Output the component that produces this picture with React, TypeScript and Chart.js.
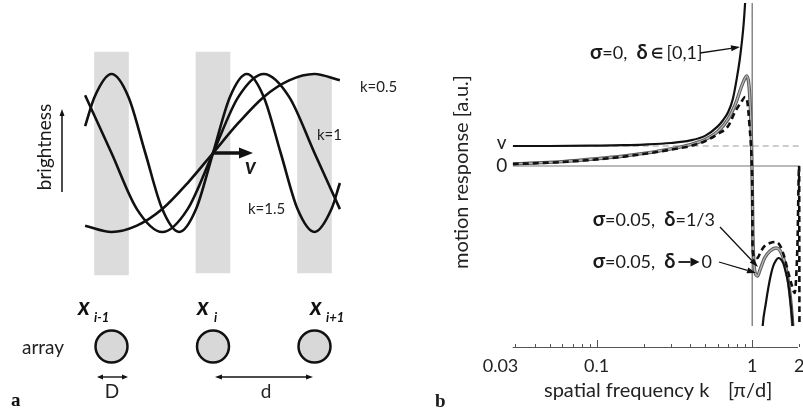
import React, { useEffect, useRef } from "react";
import { Chart, registerables } from "chart.js";
Chart.register(...registerables);

const SANS = 'Lato, "Open Sans", sans-serif';
const SERIF = '"Liberation Serif", "DejaVu Serif", serif';

// ---------------- Panel a (schematic) ----------------
// positions in units of d (receptor spacing), brightness in units of amplitude
const stripeCenter = [-1, 0, 1];
const stripeTop = [1.278, 1.278, 0.975];
const stripeBottom = [-1.544, -1.519, -1.519];

const waveLabels = ["k=0.5", "k=1", "k=1.5"];
const wave05U = [-1.26, -1, -0.75, -0.5, -0.25, 0, 0.25, 0.5, 0.75, 1, 1.25];
const wave05B = [-0.92, -1, -0.92, -0.71, -0.38, 0, 0.38, 0.71, 0.92, 1, 0.92];
const wave1U = [-1.26, -1, -0.75, -0.5, -0.25, 0, 0.25, 0.5, 0.75, 1, 1.25];
const wave1B = [0.73, 0, -0.71, -1, -0.71, 0, 0.71, 1, 0.71, 0, -0.71];
const wave15U = [-1.26, -1.167, -1, -0.833, -0.667, -0.5, -0.333, -0.167, 0, 0.167, 0.333, 0.5, 0.667, 0.833, 1, 1.167, 1.25];
const wave15B = [0.34, 0.71, 1, 0.71, 0, -0.71, -1, -0.71, 0, 0.71, 1, 0.71, 0, -0.71, -1, -0.71, -0.38];

const sensorU = [-1, 0, 1];
const sensorB = [-2.449, -2.449, -2.449];
const sensorSub = ["i-1", "i", "i+1"];

// ---------------- Panel b (motion response) ----------------
const sigma0LowK = [0.0289, 0.05, 0.1, 0.15, 0.2, 0.3, 0.4, 0.5, 0.6, 0.65, 0.7, 0.75, 0.8, 0.83, 0.86, 0.88, 0.9, 0.92];
const sigma0LowV = [1.0, 1.0, 1.02, 1.04, 1.07, 1.15, 1.28, 1.52, 1.98, 2.3, 2.7, 3.35, 4.5, 5.3, 6.3, 7.1, 8.2, 9.6];
const sigma0HighK = [1.12, 1.166, 1.22, 1.267, 1.32, 1.364, 1.42, 1.47, 1.52, 1.582, 1.64, 1.703, 1.76, 1.818, 1.86];
const sigma0HighV = [-10.5, -8, -6.9, -6.1, -5.4, -5.0, -4.72, -4.6, -4.65, -4.87, -5.3, -5.87, -6.8, -8, -9.5];

const deltaZeroK = [0.0289, 0.04, 0.06, 0.1, 0.15, 0.2, 0.3, 0.4, 0.5, 0.6, 0.7, 0.78, 0.85, 0.9, 0.92, 0.95, 0.97, 0.99, 1.0, 1.01, 1.04, 1.08, 1.12, 1.2, 1.3, 1.42, 1.5, 1.6, 1.7, 1.78, 1.84];
const deltaZeroV = [0.1, 0.15, 0.22, 0.36, 0.5, 0.63, 0.86, 1.07, 1.33, 1.72, 2.35, 3.1, 3.95, 4.4, 4.5, 4.1, 3.0, 1.0, -1.0, -3.5, -5.3, -5.5, -5.2, -4.6, -4.25, -4.1, -4.2, -4.7, -5.7, -7.0, -8.5];

const deltaThirdK = [0.0289, 0.04, 0.06, 0.1, 0.15, 0.2, 0.3, 0.4, 0.5, 0.6, 0.7, 0.78, 0.85, 0.9, 0.93, 0.96, 0.99, 1.0, 1.005, 1.04, 1.08, 1.13, 1.2, 1.3, 1.4, 1.5, 1.6, 1.7, 1.8, 1.87, 1.95, 2.0, 2.01];
const deltaThirdV = [0.1, 0.14, 0.2, 0.33, 0.47, 0.6, 0.82, 1.0, 1.25, 1.6, 2.0, 2.75, 3.2, 3.45, 3.2, 2.0, 0.3, -1.2, -4.2, -4.6, -4.6, -4.3, -4.0, -3.85, -3.8, -3.95, -4.5, -5.3, -6.0, -6.35, -4.0, 0, -8.5];

const kMin = 0.02887;
const kMax = 2.026;
const vMin = -9.05;
const vMax = 8.3;
const curveBottom = -8;

const xMajorTicks = [0.1, 1];
const xMinorTicks = [0.03, 0.04, 0.05, 0.06, 0.07, 0.08, 0.09, 0.2, 0.3, 0.4, 0.5, 0.6, 0.7, 0.8, 0.9, 2];
const xTickValues = [0.03, 0.1, 1, 2];
const xTickLabels = ["0.03", "0.1", "1", "2"];
const yMarkValues = [1, 0];
const yMarkLabels = ["v", "0"];

const zip = (xs: number[], ys: number[]) => xs.map((x, i) => ({ x, y: ys[i] }));

function arrow(ctx: CanvasRenderingContext2D, x1: number, y1: number, x2: number, y2: number, lw: number, hl: number, hw: number, color = "#111") {
  const a = Math.atan2(y2 - y1, x2 - x1);
  const bx = x2 - hl * Math.cos(a);
  const by = y2 - hl * Math.sin(a);
  ctx.save();
  ctx.strokeStyle = color;
  ctx.fillStyle = color;
  ctx.lineWidth = lw;
  ctx.setLineDash([]);
  ctx.beginPath();
  ctx.moveTo(x1, y1);
  ctx.lineTo(bx, by);
  ctx.stroke();
  ctx.beginPath();
  ctx.moveTo(x2, y2);
  ctx.lineTo(bx + (hw / 2) * Math.sin(a), by - (hw / 2) * Math.cos(a));
  ctx.lineTo(bx - (hw / 2) * Math.sin(a), by + (hw / 2) * Math.cos(a));
  ctx.closePath();
  ctx.fill();
  ctx.restore();
}

function rich(ctx: CanvasRenderingContext2D, x: number, y: number, parts: [string, string][]) {
  let cx = x;
  for (const [t, f] of parts) {
    ctx.font = f;
    ctx.fillText(t, cx, y);
    cx += ctx.measureText(t).width;
  }
  return cx;
}

export default function App() {
  const leftRef = useRef<HTMLCanvasElement>(null);
  const rightRef = useRef<HTMLCanvasElement>(null);

  useEffect(() => {
    const leftPlugin = {
      id: "panelA",
      afterDraw(chart: any) {
        const ctx: CanvasRenderingContext2D = chart.ctx;
        const xs = chart.scales.x;
        const ys = chart.scales.y;
        ctx.save();
        ctx.fillStyle = "#1a1a1a";
        // brightness label + arrow
        ctx.save();
        ctx.translate(45, 147);
        ctx.rotate(-Math.PI / 2);
        ctx.font = `19px ${SANS}`;
        ctx.textAlign = "center";
        ctx.textBaseline = "middle";
        ctx.fillText("brightness", 0, 0);
        ctx.restore();
        arrow(ctx, 62, 192, 62, 109, 1.5, 7, 5);
        // velocity arrow
        const ox = xs.getPixelForValue(0);
        const oy = ys.getPixelForValue(0);
        arrow(ctx, ox, oy, ox + 40, oy, 3.5, 14, 11);
        ctx.font = `bold italic 22px ${SANS}`;
        ctx.textAlign = "left";
        ctx.textBaseline = "alphabetic";
        ctx.fillText("v", 245, 174);
        // wave labels
        ctx.font = `15px ${SANS}`;
        ctx.textBaseline = "middle";
        ctx.fillStyle = "#222";
        ctx.fillText(waveLabels[0], 360, 87);
        ctx.fillText(waveLabels[1], 317, 135);
        ctx.fillText(waveLabels[2], 248, 209);
        // sensor labels
        ctx.fillStyle = "#111";
        ctx.textBaseline = "alphabetic";
        const xPos = [78, 197, 310];
        const subPos = [94, 214, 326];
        for (let i = 0; i < 3; i++) {
          ctx.font = `bold italic 24px ${SANS}`;
          ctx.fillText("x", xPos[i], 315);
          ctx.font = `bold italic 13px ${SANS}`;
          ctx.fillText(sensorSub[i], subPos[i], 322);
        }
        ctx.font = `19px ${SANS}`;
        ctx.fillStyle = "#222";
        ctx.fillText("array", 22, 354);
        // D and d
        arrow(ctx, 112, 377, 97, 377, 1.4, 6, 5);
        arrow(ctx, 112, 377, 128, 377, 1.4, 6, 5);
        arrow(ctx, 264, 377, 215, 377, 1.4, 7, 5);
        arrow(ctx, 264, 377, 313, 377, 1.4, 7, 5);
        ctx.textAlign = "center";
        ctx.font = `19px ${SANS}`;
        ctx.fillText("D", 112, 398);
        ctx.fillText("d", 266, 398);
        ctx.textAlign = "left";
        ctx.font = `bold 19px ${SERIF}`;
        ctx.fillStyle = "#111";
        ctx.fillText("a", 11, 406);
        ctx.restore();
      },
    };

    const left = new Chart(leftRef.current!, {
      type: "line",
      data: {
        datasets: [
          { type: "line", data: zip(wave05U, wave05B), borderColor: "#111", borderWidth: 2.6, pointRadius: 0, cubicInterpolationMode: "monotone", fill: false } as any,
          { type: "line", data: zip(wave1U, wave1B), borderColor: "#111", borderWidth: 2.6, pointRadius: 0, cubicInterpolationMode: "monotone", fill: false } as any,
          { type: "line", data: zip(wave15U, wave15B), borderColor: "#111", borderWidth: 2.6, pointRadius: 0, cubicInterpolationMode: "monotone", fill: false } as any,
          {
            type: "scatter",
            data: zip(sensorU, sensorB),
            pointRadius: 16,
            pointBackgroundColor: "#d8d8d8",
            pointBorderColor: "#111",
            pointBorderWidth: 2.5,
            showLine: false,
          } as any,
          {
            type: "bar",
            data: stripeCenter.map((x, i) => ({ x, y: [stripeBottom[i], stripeTop[i]] })),
            backgroundColor: "#dcdcdc",
            borderWidth: 0,
            barThickness: 34,
          } as any,
        ],
      },
      options: {
        responsive: false,
        animation: false,
        devicePixelRatio: 1,
        layout: { padding: 0, autoPadding: false },
        plugins: { legend: { display: false }, tooltip: { enabled: false } },
        scales: {
          x: { type: "linear", min: -213 / 101.5, max: 187 / 101.5, display: false, offset: false },
          y: { type: "linear", min: -259 / 79, max: 153 / 79, display: false },
        },
      } as any,
      plugins: [leftPlugin],
    });

    const rightPlugin = {
      id: "panelB",
      afterDraw(chart: any) {
        const ctx: CanvasRenderingContext2D = chart.ctx;
        const xs = chart.scales.x;
        const ys = chart.scales.y;
        const area = chart.chartArea;
        ctx.save();
        // x axis
        ctx.strokeStyle = "#555";
        ctx.lineWidth = 1;
        ctx.beginPath();
        ctx.moveTo(area.left, area.bottom + 0.5);
        ctx.lineTo(area.right - 2, area.bottom + 0.5);
        ctx.stroke();
        for (const t of xMinorTicks) {
          const p = Math.round(xs.getPixelForValue(t)) + 0.5;
          ctx.beginPath();
          ctx.moveTo(p, area.bottom);
          ctx.lineTo(p, area.bottom - 3);
          ctx.stroke();
        }
        for (const t of xMajorTicks) {
          const p = Math.round(xs.getPixelForValue(t)) + 0.5;
          ctx.beginPath();
          ctx.moveTo(p, area.bottom);
          ctx.lineTo(p, area.bottom - 7);
          ctx.stroke();
        }
        ctx.fillStyle = "#222";
        ctx.font = `18px ${SANS}`;
        ctx.textBaseline = "middle";
        xTickValues.forEach((v, i) => {
          const p = xs.getPixelForValue(v);
          if (i === 0) {
            ctx.textAlign = "right";
            ctx.fillText(xTickLabels[i], p + 3, area.bottom + 19);
          } else {
            ctx.textAlign = "center";
            ctx.fillText(xTickLabels[i], p, area.bottom + 19);
          }
        });
        ctx.textAlign = "left";
        ctx.font = `20px ${SANS}`;
        ctx.fillText("spatial frequency k", 144, 391);
        ctx.fillText("[\u03c0/d]", 328, 391);
        // y labels
        ctx.textAlign = "center";
        ctx.font = `19px ${SANS}`;
        yMarkValues.forEach((v, i) => {
          ctx.fillText(yMarkLabels[i], 101.7, ys.getPixelForValue(v) - (i === 0 ? 3 : 0));
        });
        ctx.save();
        ctx.translate(61.7, 172);
        ctx.rotate(-Math.PI / 2);
        ctx.font = `20px ${SANS}`;
        ctx.fillText("motion response [a.u.]", 0, 0);
        ctx.restore();
        // annotations
        ctx.textAlign = "left";
        ctx.fillStyle = "#1a1a1a";
        const B = `bold 20px ${SANS}`;
        const N = `18px ${SANS}`;
        const S = `bold 14px ${SANS}`;
        rich(ctx, 190, 53, [["\u03c3", B], ["=0,  ", N], ["\u03b4", B], [" \u2208 ", S], ["[0,1]", N]]);
        arrow(ctx, 300, 53, 340, 47, 1.3, 9, 6);
        rich(ctx, 192.7, 220, [["\u03c3", B], ["=0.05,  ", N], ["\u03b4", B], ["=1/3", N]]);
        arrow(ctx, 320, 227, 358, 267, 1.3, 9, 6);
        const ex = rich(ctx, 192.7, 262, [["\u03c3", B], ["=0.05,  ", N], ["\u03b4", B]]);
        arrow(ctx, ex + 3, 262, ex + 24, 262, 1.8, 9, 9);
        ctx.font = N;
        ctx.fillText("0", ex + 26, 262);
        arrow(ctx, 319, 262, 356, 273, 1.3, 9, 6);
        ctx.font = `bold 19px ${SERIF}`;
        ctx.textBaseline = "alphabetic";
        ctx.fillText("b", 35, 407);
        ctx.restore();
      },
    };

    const curveClip = { left: 0, top: -3, right: 4, bottom: -21 };
    const right = new Chart(rightRef.current!, {
      type: "line",
      data: {
        datasets: [
          { data: zip(sigma0LowK, sigma0LowV), borderColor: "#111", borderWidth: 2.2, pointRadius: 0, cubicInterpolationMode: "monotone", clip: curveClip },
          { data: zip(sigma0HighK, sigma0HighV), borderColor: "#111", borderWidth: 2.2, pointRadius: 0, cubicInterpolationMode: "monotone", clip: curveClip },
          { data: zip(deltaThirdK, deltaThirdV), borderColor: "#111", borderWidth: 2.6, borderDash: [6, 4], pointRadius: 0, cubicInterpolationMode: "monotone", clip: curveClip },
          { data: zip(deltaZeroK, deltaZeroV), borderColor: "#b4b4b4", borderWidth: 1.4, pointRadius: 0, cubicInterpolationMode: "monotone", clip: curveClip },
          { data: zip(deltaZeroK, deltaZeroV), borderColor: "#5a5a5a", borderWidth: 3.4, pointRadius: 0, cubicInterpolationMode: "monotone", clip: curveClip },
          { data: [{ x: 1, y: vMax }, { x: 1, y: curveBottom }], borderColor: "#888", borderWidth: 1, pointRadius: 0, clip: curveClip },
          { data: [{ x: kMin, y: 1 }, { x: kMax, y: 1 }], borderColor: "#999", borderWidth: 1.2, borderDash: [6, 4], pointRadius: 0 },
          { data: [{ x: kMin, y: 0 }, { x: kMax, y: 0 }], borderColor: "#777", borderWidth: 1, pointRadius: 0 },
        ] as any,
      },
      options: {
        responsive: false,
        animation: false,
        devicePixelRatio: 1,
        layout: { padding: { left: 112.7, right: 3, top: 0, bottom: 65 }, autoPadding: false },
        plugins: { legend: { display: false }, tooltip: { enabled: false } },
        scales: {
          x: { type: "logarithmic", min: kMin, max: kMax, display: false },
          y: { type: "linear", min: vMin, max: vMax, display: false },
        },
      } as any,
      plugins: [rightPlugin],
    });

    return () => {
      left.destroy();
      right.destroy();
    };
  }, []);

  return (
    <div style={{ position: "absolute", left: 0, top: 0, width: 803, height: 412, background: "#fff" }}>
      <canvas ref={leftRef} width={400} height={412} style={{ position: "absolute", left: 0, top: 0 }} />
      <canvas ref={rightRef} width={403} height={412} style={{ position: "absolute", left: 400, top: 0 }} />
    </div>
  );
}
